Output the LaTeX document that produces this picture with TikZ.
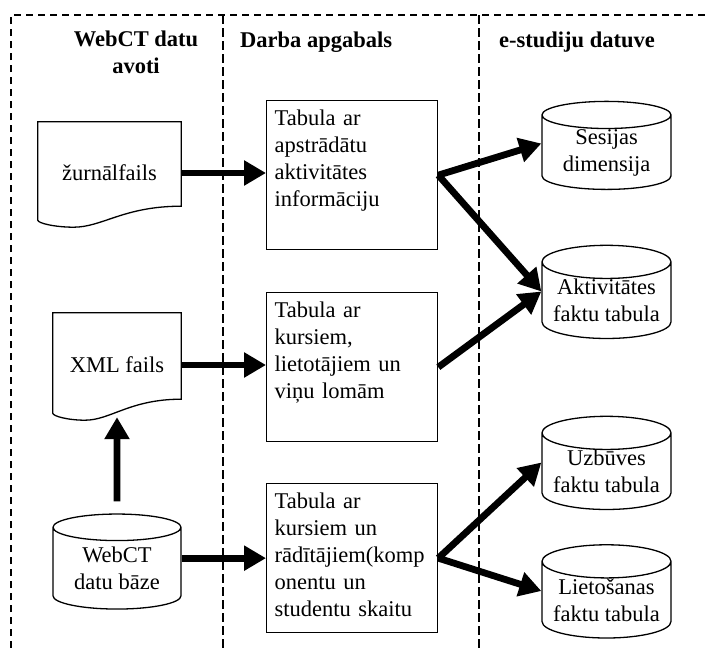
\documentclass[tikz,border=0pt]{standalone}
\usepackage{fontspec}
\setmainfont{Liberation Serif}
\usetikzlibrary{shapes.geometric, arrows.meta, calc, positioning}
\newcommand\bodyfont{\fontsize{22.5}{27}\selectfont}
\newcommand\headfont{\fontsize{22.5}{27}\selectfont\bfseries}
\tikzstyle{arrow} = [line width=6.8pt, -{Triangle[length=22pt,width=24pt]}]
\tikzset{
  outline/.style  = {line width=1.3pt},
  doc/.style      = {minimum height=102pt, inner sep=0pt, font=\bodyfont},
  tabbox/.style   = {draw, outline, anchor=north west, minimum width=171pt,
                     text width=155pt, inner xsep=8pt, inner ysep=6pt,
                     text height=19pt, text depth=118pt, align=left, font=\bodyfont},
  store/.style    = {cylinder, shape border rotate=90, draw, outline, aspect=0.31,
                     minimum width=129pt, minimum height=85pt, inner sep=0pt,
                     align=center, font=\bodyfont},
  lanehead/.style = {font=\headfont, inner sep=0pt},
  frame/.style    = {line width=2pt, dash pattern=on 7pt off 5pt},
  lane/.style     = {line width=2.2pt, dash pattern=on 9pt off 4pt}
}

\begin{document}
\begin{tikzpicture}[x=1pt, y=-1pt]
  \useasboundingbox (0,0) rectangle (705,648);

  % Swimlanes
  \draw[frame] (11,648) -- (11,15) -- (705,15);
  \draw[lane] (223,15) -- (223,648);
  \draw[lane] (479,15) -- (479,648);
  \node[lanehead, align=center, anchor=north] (srchead) at (136,31) {WebCT datu\\avoti};
  \node[lanehead, anchor=base west] (workhead) at (240,47) {Darba apgabals};
  \node[lanehead, anchor=base west] (dwhead) at (499,47) {e-studiju datuve};

  % Sources
  \node[doc, minimum width=143pt] (zurn) at (109.5,173) {žurnālfails};
  \node[doc, minimum width=128pt, minimum height=104pt] (xml) at (117,365) {XML fails};
  \node[store, minimum width=128pt, minimum height=95pt] (db) at (117,568.5) {WebCT\\datu bāze};
  \foreach \d in {zurn,xml}
    \draw[outline] (\d.north west) -- (\d.north east) -- ($(\d.south east)+(0,-18)$)
      .. controls ($(\d.south east)!0.4!(\d.south west)+(0,-18)$)
              and ($(\d.south east)!0.55!(\d.south west)+(0,3)$)
      .. ($(\d.south east)!0.75!(\d.south west)+(0,3)$)
      .. controls ($(\d.south east)!0.88!(\d.south west)+(0,3)$)
              and ($(\d.south west)+(0,-1)$)
      .. ($(\d.south west)+(0,-4)$) -- cycle;

  % Work tables
  \node[tabbox] (tab1) at (266,100) {Tabula ar\\apstrādātu\\aktivitātes\\informāciju};
  \node[tabbox] (tab2) at (266,292) {Tabula ar\\kursiem,\\lietotājiem un\\viņu lomām};
  \node[tabbox] (tab3) at (266,483) {Tabula ar\\kursiem un\\rādītājiem(komp\\onentu un\\studentu skaitu};

  % Warehouse tables
  \foreach \n/\y/\txt in {ses/152.5/{Sesijas\\dimensija},
                          akt/300.5/{Aktivitātes\\faktu tabula},
                          uzb/471.5/{Uzbūves\\faktu tabula},
                          liet/600/{Lietošanas\\faktu tabula}}
    \node[store] (\n) at (606.5,\y) {\txt};

  % Flows
  \draw[arrow] (zurn.east) -- (zurn.east -| tab1.west);
  \draw[arrow] (xml.east) -- (xml.east -| tab2.west);
  \draw[arrow] (tab3.west -| db.east) -- (tab3.west);
  \draw[arrow, shorten <=12pt] (db.north) -- (xml.south);
  \foreach \a/\b in {tab1/ses, tab1/akt, tab2/akt, tab3/uzb, tab3/liet}
    \draw[arrow] (\a.east) -- ([yshift=9pt]\b.west);
\end{tikzpicture}
\end{document}
